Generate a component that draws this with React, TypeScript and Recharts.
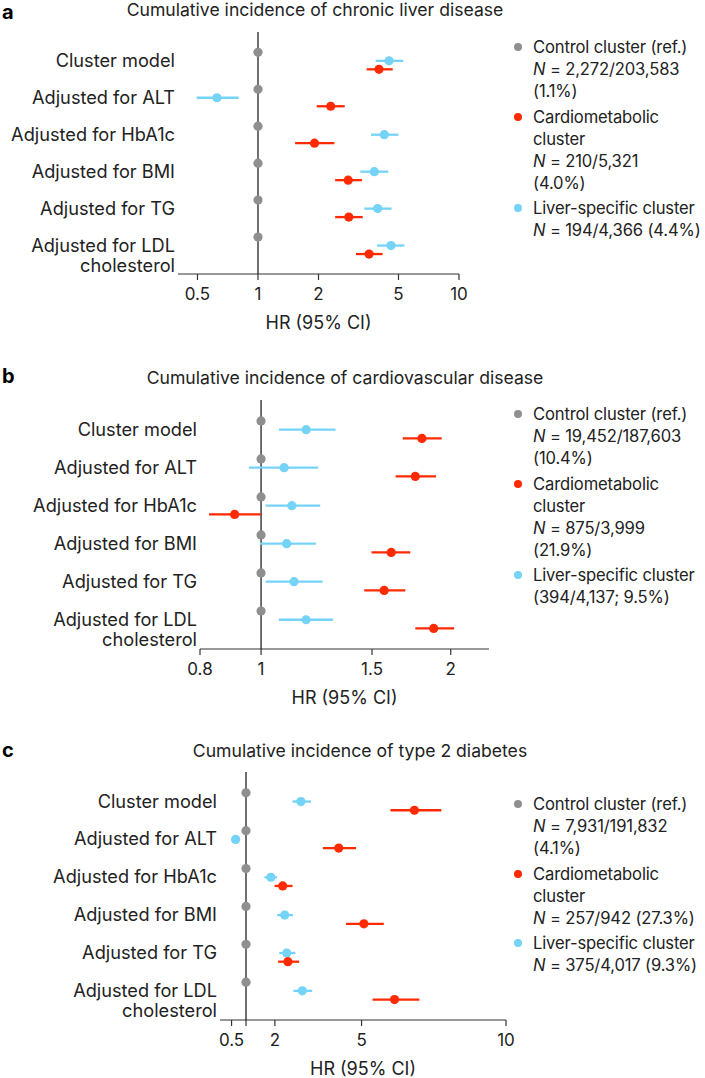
import React from "react"
import { ScatterChart, Scatter, XAxis, YAxis, ErrorBar, ReferenceLine } from "recharts"

const GRAY = "#8f8f8f"
const RED = "#ff2a00"
const BLUE = "#74d3f6"
const INK = "#333333"

const rowLabels = [
  ["Cluster model"],
  ["Adjusted for ALT"],
  ["Adjusted for HbA1c"],
  ["Adjusted for BMI"],
  ["Adjusted for TG"],
  ["Adjusted for LDL", "cholesterol"],
]

const controlHR = [1, 1, 1, 1, 1, 1]

// a: chronic liver disease
const liverCardioHR = [4.0, 2.3, 1.91, 2.81, 2.83, 3.57]
const liverCardioLo = [3.47, 1.96, 1.53, 2.42, 2.42, 3.07]
const liverCardioHi = [4.68, 2.7, 2.4, 3.29, 3.32, 4.17]
const liverLiverHR = [4.49, 0.625, 4.25, 3.79, 3.94, 4.59]
const liverLiverLo = [3.85, 0.495, 3.65, 3.23, 3.38, 3.91]
const liverLiverHi = [5.28, 0.8, 4.99, 4.45, 4.62, 5.35]

// b: cardiovascular disease
const cvdCardioHR = [1.8, 1.757, 0.908, 1.609, 1.568, 1.879]
const cvdCardioLo = [1.678, 1.635, 0.827, 1.497, 1.458, 1.757]
const cvdCardioHi = [1.935, 1.895, 1.0, 1.725, 1.694, 2.025]
const cvdLiverHR = [1.179, 1.088, 1.119, 1.098, 1.128, 1.179]
const cvdLiverLo = [1.067, 0.957, 1.017, 0.996, 1.017, 1.067]
const cvdLiverHi = [1.313, 1.232, 1.241, 1.222, 1.252, 1.3]

// c: type 2 diabetes
const t2dCardioHR = [6.83, 4.21, 2.27, 5.08, 2.45, 6.14]
const t2dCardioLo = [6.0, 3.66, 1.99, 4.46, 2.11, 5.38]
const t2dCardioHi = [7.76, 4.81, 2.61, 5.77, 2.84, 7.0]
const t2dLiverHR = [2.9, 0.64, 1.86, 2.34, 2.41, 2.95]
const t2dLiverLo = [2.61, 0.6, 1.64, 2.08, 2.15, 2.64]
const t2dLiverHi = [3.25, 0.68, 2.07, 2.63, 2.71, 3.29]

const liverTicks = [0.5, 1, 2, 5, 10]
const cvdTicks = [0.8, 1, 1.5, 2]
const t2dTicks = [0.5, 1, 2, 5, 10]

const liverLegend = [
  ["Control cluster (ref.)", "N = 2,272/203,583", "(1.1%)"],
  ["Cardiometabolic", "cluster", "N = 210/5,321", "(4.0%)"],
  ["Liver-specific cluster", "N = 194/4,366 (4.4%)"],
]
const cvdLegend = [
  ["Control cluster (ref.)", "N = 19,452/187,603", "(10.4%)"],
  ["Cardiometabolic", "cluster", "N = 875/3,999", "(21.9%)"],
  ["Liver-specific cluster", "(394/4,137; 9.5%)"],
]
const t2dLegend = [
  ["Control cluster (ref.)", "N = 7,931/191,832", "(4.1%)"],
  ["Cardiometabolic", "cluster", "N = 257/942 (27.3%)"],
  ["Liver-specific cluster", "N = 375/4,017 (9.3%)"],
]
const legendColors = [GRAY, RED, BLUE]

const BLUE_OFFSET = 0.23
const RED_OFFSET = 0.46

const buildRows = (hr: number[], lo: number[] | null, hi: number[] | null, offset: number) =>
  hr.map((v, i) => ({
    hr: v,
    row: i + offset,
    err: lo && hi ? [v - lo[i], hi[i] - v] : [0, 0],
  }))

const dot = (color: string) => (p: any) => <circle cx={p.cx} cy={p.cy} r={4.6} fill={color} />

const RowTick = (props: any) => {
  const { x, y, payload } = props
  const lines = rowLabels[Math.round(payload.value - BLUE_OFFSET)] || []
  return (
    <text x={x} y={y} textAnchor="end" fontSize={18.2} fill="#222">
      {lines.map((l, k) => (
        <tspan key={k} x={x} dy={k === 0 ? "0.33em" : 20}>
          {l}
        </tspan>
      ))}
    </text>
  )
}

interface ForestProps {
  top: number
  plotTop: number
  plotBottom: number
  plotLeft: number
  plotRight: number
  scale: "log" | "linear"
  domain: [number, number]
  ticks: number[]
  hideTick?: number
  cardio: [number[], number[], number[]]
  liver: [number[], number[], number[]]
}

const CHART_W = 520

function Forest(p: ForestProps) {
  const control = buildRows(controlHR, null, null, 0)
  const liver = buildRows(p.liver[0], p.liver[1], p.liver[2], BLUE_OFFSET)
  const cardio = buildRows(p.cardio[0], p.cardio[1], p.cardio[2], RED_OFFSET)
  const height = p.plotBottom - p.top + 60
  return (
    <div style={{ position: "absolute", left: 0, top: p.top }}>
      <ScatterChart
        width={CHART_W}
        height={height}
        margin={{ top: p.plotTop - p.top, right: CHART_W - p.plotRight, bottom: 0, left: 0 }}
      >
        <XAxis
          type="number"
          dataKey="hr"
          scale={p.scale}
          domain={p.domain}
          allowDataOverflow
          ticks={p.ticks}
          interval={0}
          height={60}
          tickSize={6}
          tickMargin={8}
          stroke={INK}
          strokeWidth={1.2}
          tick={{ fontSize: 17, fill: "#222" }}
          tickFormatter={(v: number) => (v === p.hideTick ? "" : String(v))}
          label={{ value: "HR (95% CI)", position: "insideBottom", offset: 5, fontSize: 18, fill: "#222" }}
        />
        <YAxis
          type="number"
          dataKey="row"
          domain={[-0.55, 6]}
          reversed
          width={p.plotLeft}
          axisLine={false}
          tickLine={false}
          tickSize={0}
          tickMargin={3}
          interval={0}
          ticks={rowLabels.map((_, i) => i + BLUE_OFFSET)}
          tick={<RowTick />}
        />
        <ReferenceLine x={1} stroke={INK} strokeWidth={1.4} />
        <Scatter data={control} fill={GRAY} shape={dot(GRAY)} isAnimationActive={false} />
        <Scatter data={liver} fill={BLUE} shape={dot(BLUE)} isAnimationActive={false}>
          <ErrorBar dataKey="err" direction="x" width={0} stroke={BLUE} strokeWidth={2.3} />
        </Scatter>
        <Scatter data={cardio} fill={RED} shape={dot(RED)} isAnimationActive={false}>
          <ErrorBar dataKey="err" direction="x" width={0} stroke={RED} strokeWidth={2.3} />
        </Scatter>
      </ScatterChart>
    </div>
  )
}

const LegendLine = ({ text }: { text: string }) =>
  text.startsWith("N = ") ? (
    <div>
      <i>N</i>
      {text.slice(1)}
    </div>
  ) : (
    <div>{text}</div>
  )

function LegendBlock({ top, entries }: { top: number; entries: string[][] }) {
  return (
    <div
      style={{
        position: "absolute",
        left: 512,
        top,
        fontSize: 16.6,
        letterSpacing: "-0.15px",
        lineHeight: "22px",
        color: "#222",
        whiteSpace: "nowrap",
      }}
    >
      {entries.map((lines, i) => (
        <div key={i} style={{ position: "relative", paddingLeft: 21, marginTop: i === 0 ? 0 : 3.5 }}>
          <span
            style={{
              position: "absolute",
              left: 2,
              top: 7,
              width: 8,
              height: 8,
              borderRadius: 4,
              background: legendColors[i],
            }}
          />
          {lines.map((l, k) => (
            <LegendLine key={k} text={l} />
          ))}
        </div>
      ))}
    </div>
  )
}

const Title = ({ center, top, text }: { center: number; top: number; text: string }) => (
  <div
    style={{
      position: "absolute",
      left: center - 250,
      width: 500,
      top,
      textAlign: "center",
      fontSize: 17.6,
      lineHeight: "20px",
      color: "#222",
    }}
  >
    {text}
  </div>
)

const Letter = ({ top, text }: { top: number; text: string }) => (
  <div style={{ position: "absolute", left: 2, top, fontSize: 20, fontWeight: 700, lineHeight: "22px" }}>
    {text}
  </div>
)

export default function App() {
  return (
    <div
      style={{
        position: "absolute",
        left: 0,
        top: 0,
        width: 705,
        height: 1078,
        background: "#fff",
        fontFamily: "Inter, 'Noto Sans', sans-serif",
        overflow: "hidden",
      }}
    >
      <Letter top={1} text="a" />
      <Title center={315} top={0} text="Cumulative incidence of chronic liver disease" />
      <Forest
        top={0}
        plotTop={32}
        plotBottom={274}
        plotLeft={178}
        plotRight={459}
        scale="log"
        domain={[0.4, 10]}
        ticks={liverTicks}
        cardio={[liverCardioHR, liverCardioLo, liverCardioHi]}
        liver={[liverLiverHR, liverLiverLo, liverLiverHi]}
      />
      <LegendBlock top={36} entries={liverLegend} />

      <Letter top={365} text="b" />
      <Title center={345} top={368} text="Cumulative incidence of cardiovascular disease" />
      <Forest
        top={360}
        plotTop={400}
        plotBottom={649}
        plotLeft={200}
        plotRight={489}
        scale="log"
        domain={[0.8, 2.3]}
        ticks={cvdTicks}
        cardio={[cvdCardioHR, cvdCardioLo, cvdCardioHi]}
        liver={[cvdLiverHR, cvdLiverLo, cvdLiverHi]}
      />
      <LegendBlock top={403} entries={cvdLegend} />

      <Letter top={739} text="c" />
      <Title center={360} top={741} text="Cumulative incidence of type 2 diabetes" />
      <Forest
        top={730}
        plotTop={772}
        plotBottom={1020}
        plotLeft={220}
        plotRight={506}
        scale="linear"
        domain={[0.1, 10]}
        ticks={t2dTicks}
        hideTick={1}
        cardio={[t2dCardioHR, t2dCardioLo, t2dCardioHi]}
        liver={[t2dLiverHR, t2dLiverLo, t2dLiverHi]}
      />
      <LegendBlock top={793} entries={t2dLegend} />
    </div>
  )
}
